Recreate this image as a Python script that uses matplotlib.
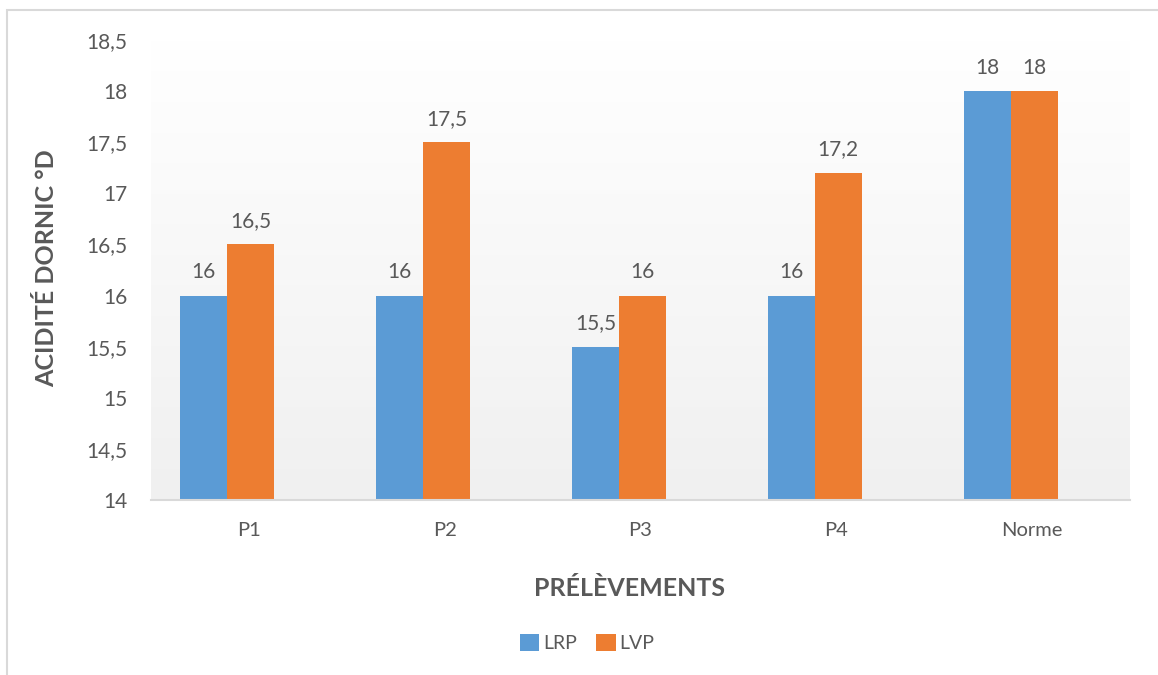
import matplotlib.pyplot as plt
import numpy as np
from matplotlib.patches import Rectangle
from matplotlib.colors import LinearSegmentedColormap

categories = ["P1", "P2", "P3", "P4", "Norme"]
lrp = [16, 16, 15.5, 16, 18]
lvp = [16.5, 17.5, 16, 17.2, 18]
series_names = ["LRP", "LVP"]
yticks = [14, 14.5, 15, 15.5, 16, 16.5, 17, 17.5, 18, 18.5]

blue = "#5B9BD5"
orange = "#ED7D31"
grey_txt = "#595959"

plt.rcParams["font.family"] = ["Lato", "DejaVu Sans"]


def fr(v):
    return f"{v:g}".replace(".", ",")


fig = plt.figure(figsize=(11.58, 6.75), dpi=100)
ax = fig.add_axes([151 / 1158, 1 - 500 / 675, 979 / 1158, 460 / 675])

# outer frame, cut off on the right and bottom like the source
fig.patches.append(Rectangle((7 / 1158, -0.05), 1.2, 1 - 10 / 675 + 0.05,
                             transform=fig.transFigure, fill=False,
                             edgecolor="#d9d9d9", linewidth=1.5))

x = np.arange(len(categories))
shift = -0.11
w = 0.24

ax.set_xlim(-0.5, len(categories) - 0.5)
ax.set_ylim(14, 18.5)

# background gradient: white on top, light grey at the bottom
grad = np.linspace(0, 1, 256).reshape(-1, 1)
cmap = LinearSegmentedColormap.from_list("g", ["#f0f0f0", "#ffffff"])
ax.imshow(grad, extent=[-0.5, len(categories) - 0.5, 14, 18.5], aspect="auto",
          cmap=cmap, vmin=0, vmax=1, zorder=0, origin="lower")

b1 = ax.bar(x + shift - w / 2, [v - 14 for v in lrp], w, bottom=14,
            color=blue, label=series_names[0], zorder=2)
b2 = ax.bar(x + shift + w / 2, [v - 14 for v in lvp], w, bottom=14,
            color=orange, label=series_names[1], zorder=2)

for bars, vals in ((b1, lrp), (b2, lvp)):
    for r, v in zip(bars, vals):
        ax.annotate(fr(v), (r.get_x() + r.get_width() / 2, v),
                    xytext=(0, 17), textcoords="offset points",
                    ha="center", va="center", fontsize=15, color=grey_txt)

ax.set_yticks(yticks)
ax.set_yticklabels([fr(v) for v in yticks])
ax.set_xticks(x)
ax.set_xticklabels(categories)
ax.tick_params(axis="y", length=0, pad=17, labelsize=15, labelcolor=grey_txt)
ax.tick_params(axis="x", length=0, pad=16, labelsize=14.5, labelcolor=grey_txt)

for s in ("top", "right", "left"):
    ax.spines[s].set_visible(False)
ax.spines["bottom"].set_color("#d9d9d9")
ax.spines["bottom"].set_linewidth(1.5)
ax.spines["bottom"].set_zorder(3)

ax.set_ylabel("ACIDITÉ DORNIC °D", fontsize=18, fontweight="bold",
              color=grey_txt)
ax.yaxis.set_label_coords(-(151 - 47) / 979, (500 - 268) / 460)
ax.yaxis.label.set_va("center")
ax.set_xlabel("PRÉLÈVEMENTS", fontsize=18, fontweight="bold", color=grey_txt)
ax.xaxis.set_label_coords((630 - 151) / 979, -(588 - 500) / 460)
ax.xaxis.label.set_va("center")

fig.legend(handles=[b1, b2], loc="center",
           bbox_to_anchor=(587 / 1158, 1 - 643 / 675), ncol=2,
           frameon=False, fontsize=14, handlelength=1.0,
           handleheight=1.0, handletextpad=0.2, columnspacing=1.0,
           labelcolor=grey_txt)

fig.savefig("out.png", dpi=100)
